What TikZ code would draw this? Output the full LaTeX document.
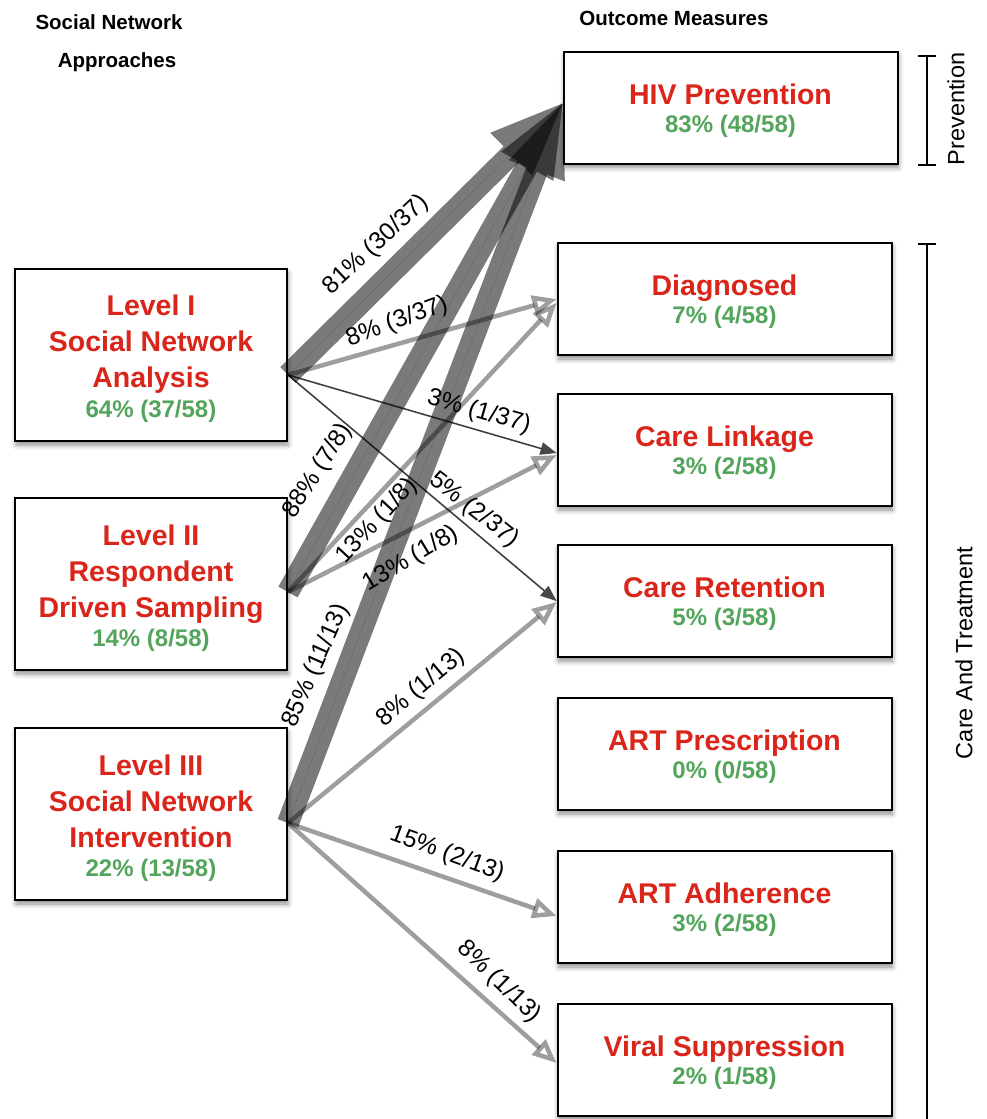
\documentclass[tikz,border=0pt]{standalone}
\usepackage{fontspec}
\setmainfont{Liberation Sans}
\usetikzlibrary{arrows.meta,shadows.blur}
\definecolor{tred}{RGB}{218,37,26}
\definecolor{tgreen}{RGB}{84,165,92}
\begin{document}
\begin{tikzpicture}[x=1pt,y=-1pt,
 box/.style={draw=black,line width=2pt,fill=white,inner sep=0pt,
   blur shadow={shadow xshift=1pt,shadow yshift=-4pt,shadow blur radius=5pt,shadow opacity=45}},
 lbox/.style={box,minimum width=272pt,minimum height=172pt},
 rbox/.style={box,minimum width=334pt,minimum height=112pt},
 ttl/.style={text=tred,font=\fontsize{28.5}{34}\selectfont\bfseries,anchor=base,inner sep=0pt},
 pct/.style={text=tgreen,font=\fontsize{24}{28}\selectfont\bfseries,anchor=base,inner sep=0pt},
 hdr/.style={font=\fontsize{20.5}{24}\selectfont\bfseries,inner sep=0pt},
 elab/.style={font=\fontsize{24.5}{28}\selectfont,inner sep=0pt},
 side/.style={font=\fontsize{23.5}{27}\selectfont,inner sep=0pt,rotate=90},
 thickarr/.style={draw=black,fill=black,opacity=0.52,line width=22pt,
   -{Triangle[length=72pt,width=60pt,line width=0pt]}},
 lightarr/.style={draw=black,opacity=0.38,line width=4.5pt,
   -{Triangle[open,length=24pt,width=20pt]}},
 darkarr/.style={draw=black,fill=black,opacity=0.72,line width=1.6pt,
   -{Triangle[length=16pt,width=13pt,line width=0pt]}}
]
\useasboundingbox (0,0) rectangle (986,1119);

% headers
\node[hdr] (h1) at (109,22) {Social Network};
\node[hdr] (h2) at (117,62) {Approaches};
\node[hdr] (h3) at (674,18) {Outcome Measures};

% left boxes
\node[lbox] (l1) at (151,355) {};
\node[lbox] (l2) at (151,584) {};
\node[lbox] (l3) at (151,814) {};
\node[ttl] (l1a) at (151,315) {Level I};
\node[ttl] (l1b) at (151,351) {Social Network};
\node[ttl] (l1c) at (151,387) {Analysis};
\node[pct] (l1d) at (151,417) {64\% (37/58)};
\node[ttl] (l2a) at (151,545) {Level II};
\node[ttl] (l2b) at (151,581) {Respondent};
\node[ttl] (l2c) at (151,617) {Driven Sampling};
\node[pct] (l2d) at (151,646) {14\% (8/58)};
\node[ttl] (l3a) at (151,775) {Level III};
\node[ttl] (l3b) at (151,811) {Social Network};
\node[ttl] (l3c) at (151,847) {Intervention};
\node[pct] (l3d) at (151,876) {22\% (13/58)};

% right boxes
\node[rbox] (hiv) at (730.5,107.5) {};
\node[rbox] (dia) at (724.5,299) {};
\node[rbox] (lnk) at (724.5,450) {};
\node[rbox] (ret) at (724.5,601) {};
\node[rbox] (artp) at (724.5,754) {};
\node[rbox] (arta) at (724.5,907) {};
\node[rbox] (vir) at (724.5,1060) {};
\node[ttl] (hivt) at (730.5,104) {HIV Prevention};
\node[pct] (hivp) at (730.5,132) {83\% (48/58)};
\node[ttl] (diat) at (724.5,295) {Diagnosed};
\node[pct] (diap) at (724.5,323.5) {7\% (4/58)};
\node[ttl] (lnkt) at (724.5,446) {Care Linkage};
\node[pct] (lnkp) at (724.5,474.5) {3\% (2/58)};
\node[ttl] (rett) at (724.5,597) {Care Retention};
\node[pct] (retp) at (724.5,625.5) {5\% (3/58)};
\node[ttl] (artpt) at (724.5,750) {ART Prescription};
\node[pct] (artpp) at (724.5,778.5) {0\% (0/58)};
\node[ttl] (artat) at (724.5,903) {ART Adherence};
\node[pct] (artap) at (724.5,931.5) {3\% (2/58)};
\node[ttl] (virt) at (724.5,1056) {Viral Suppression};
\node[pct] (virp) at (724.5,1084.5) {2\% (1/58)};

% brackets
\draw[line width=2pt] (918,56) -- (936,56) (927,56) -- (927,165) (918,165) -- (936,165);
\draw[line width=2pt] (918,244) -- (936,244) (927,244) -- (927,1119);
\node[side] (prev) at (956,109) {Prevention};
\node[side] (care) at (964,653) {Care And Treatment};

% connectors
\coordinate (s1) at ([yshift=-20pt]l1.east);
\coordinate (s2) at ([yshift=-8pt]l2.east);
\coordinate (s3) at ([yshift=-9pt]l3.east);

\draw[thickarr] (s1) -- ([yshift=4pt]hiv.west);
\draw[thickarr] (s2) -- ([yshift=4pt]hiv.west);
\draw[thickarr] (s3) -- ([yshift=4pt]hiv.west);

\draw[lightarr] (s1) -- (dia.west);
\draw[lightarr] (s2) -- ([yshift=-4pt]dia.west);
\draw[lightarr] (s2) -- ([yshift=-5pt]lnk.west);
\draw[lightarr] (s3) -- ([yshift=-1pt]ret.west);
\draw[lightarr] (s3) -- ([yshift=-9pt]arta.west);
\draw[lightarr] (s3) -- ([yshift=-3pt]vir.west);

\draw[darkarr] (s1) -- ([yshift=-3pt]lnk.west);
\draw[darkarr] (s1) -- (ret.west);

% connector labels
\node[elab,rotate=43] (e1) at (376,245) {81\% (30/37)};
\node[elab,rotate=20] (e2) at (397,322) {8\% (3/37)};
\node[elab,rotate=-16] (e3) at (479,412) {3\% (1/37)};
\node[elab,rotate=57] (e4) at (318,471) {88\% (7/8)};
\node[elab,rotate=47] (e5) at (377,521) {13\% (1/8)};
\node[elab,rotate=31] (e6) at (411,559) {13\% (1/8)};
\node[elab,rotate=-38] (e7) at (474,510) {5\% (2/37)};
\node[elab,rotate=66] (e8) at (316,666) {85\% (11/13)};
\node[elab,rotate=40] (e9) at (421,688) {8\% (1/13)};
\node[elab,rotate=-20] (e10) at (447,854) {15\% (2/13)};
\node[elab,rotate=-44] (e11) at (499,982) {8\% (1/13)};
\end{tikzpicture}
\end{document}
